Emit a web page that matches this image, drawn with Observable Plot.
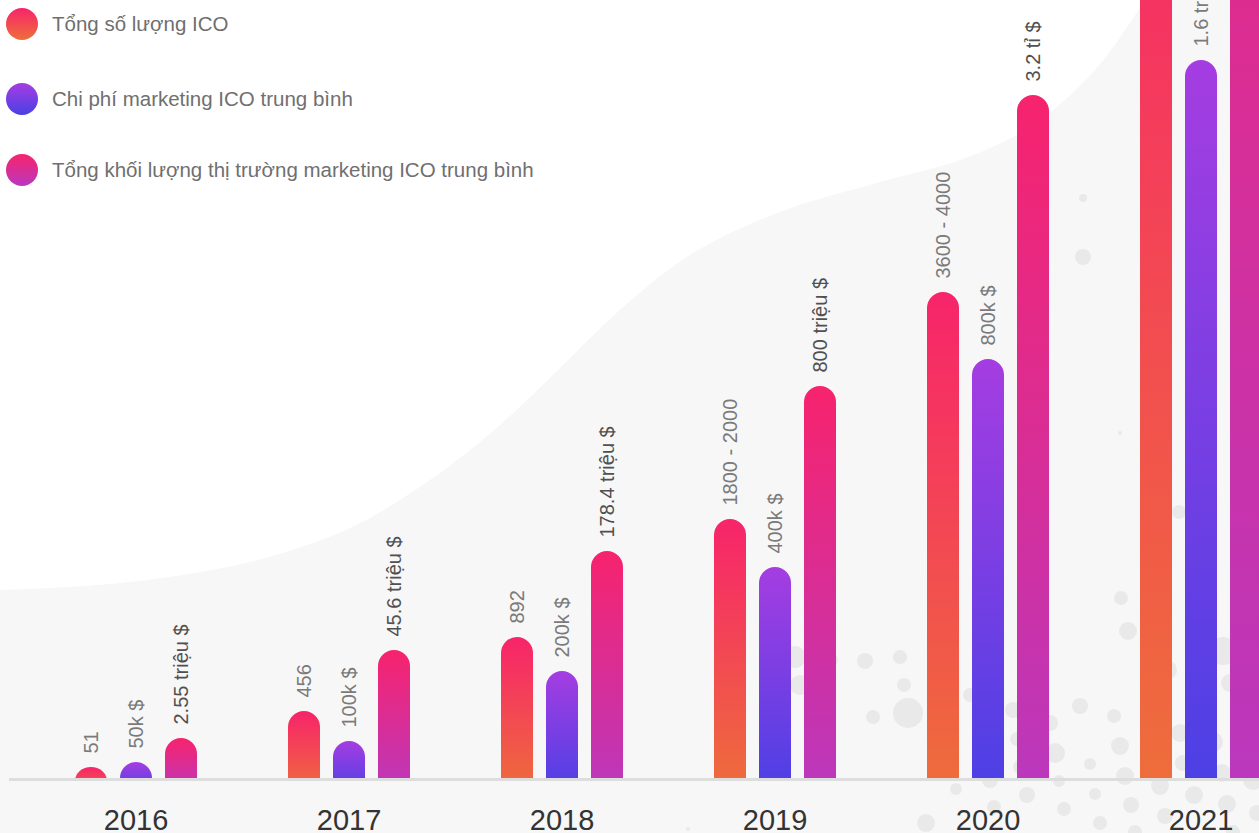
<!DOCTYPE html>
<html>
<head>
<meta charset="utf-8">
<script src="https://cdn.jsdelivr.net/npm/d3@7"></script>
<script src="https://cdn.jsdelivr.net/npm/@observablehq/plot@0.6"></script>
<style>
  html, body { margin: 0; padding: 0; background: #ffffff; overflow: hidden; width: 1259px; height: 833px; }
  #wrap { position: relative; width: 1259px; height: 833px; overflow: hidden; font-family: "Liberation Sans", Arial, sans-serif; }
  #bg, #chart, #legend { position: absolute; left: 0; top: 0; }
  #chart { width: 1310px; }
  #chart svg { max-width: none !important; }
  #legend .item { position: absolute; left: 6px; display: flex; align-items: center; height: 32px; }
  #legend .sw { width: 32px; height: 32px; border-radius: 50%; margin-right: 14px; }
  #legend .lb { font-size: 20.5px; color: #6f6f6f; white-space: nowrap; }
</style>
</head>
<body>
<div id="wrap">
  <svg id="bg" width="1259" height="833"></svg>
  <div id="chart"></div>
  <div id="legend"></div>
</div>
<script>
// ---- data ----
const years = ["2016", "2017", "2018", "2019", "2020", "2021"];
const seriesNames = [
  "Tổng số lượng ICO",
  "Chi phí marketing ICO trung bình",
  "Tổng khối lượng thị trường marketing ICO trung bình"
];
// bar heights as drawn in the picture (illustrative scale)
const countHeights  = [11, 67, 141, 259, 486, 980];
const costHeights   = [16, 37, 107, 211, 419, 718];
const marketHeights = [40, 128, 227, 392, 683, 1370];
// value labels printed above the bars
const countLabels  = ["51", "456", "892", "1800 - 2000", "3600 - 4000", "7200 - 8000"];
const costLabels   = ["50k $", "100k $", "200k $", "400k $", "800k $", "1.6 triệu $"];
const marketLabels = ["2.55 triệu $", "45.6 triệu $", "178.4 triệu $", "800 triệu $", "3.2 tỉ $", "12.8 tỉ $"];

// ---- styling ----
const gradients = [
  {id: "gCount",  top: "#f7246b", bottom: "#ee6e3a"},
  {id: "gCost",   top: "#a53de1", bottom: "#4a40e5"},
  {id: "gMarket", top: "#f7236d", bottom: "#ba38be"}
];
const labelFill = ["#7a7a7a", "#7a7a7a", "#505050"];
const labelWeight = [400, 400, 500];

const heightsBySeries = [countHeights, costHeights, marketHeights];
const labelsBySeries = [countLabels, costLabels, marketLabels];
const rowsBySeries = seriesNames.map((s, k) =>
  years.map((yr, i) => ({year: yr, series: s, h: heightsBySeries[k][i], label: labelsBySeries[k][i]}))
);

// ---- background decoration ----
const curvePts = [[0,590],[120,583],[250,562],[350,528],[430,480],[500,425],[560,368],[620,310],[690,255],[780,212],[880,182],[960,160],[1020,133],[1065,100],[1105,58],[1145,0]];
const bubbles = [
  [795,657,11],[830,660,8],[865,661,8],[900,657,7],[800,685,10],[904,685,7],[908,713,15],[873,717,7],
  [1121,598,7],[1128,631,9],[1223,651,14],[1167,670,10],[1230,683,9],[970,695,7],[1013,710,8],[1050,723,8],
  [1080,706,8],[1114,716,7],[1180,733,9],[1213,742,10],[1017,739,7],[1055,753,10],[1120,746,9],[1090,764,6],
  [1183,763,8],[1222,773,9],[1020,767,7],[1253,780,10],[1125,776,9],[956,789,6],[990,780,8],[1027,795,8],
  [1059,781,6],[1095,794,6],[1131,805,8],[1160,786,9],[1194,795,9],[1227,804,9],[1064,809,7],[994,807,7],
  [926,823,9],[1100,823,7],[1165,816,8],[1257,813,8],[1135,832,7],[1233,832,7],[1083,198,4],[1083,257,8],
  [1179,512,7],[1120,433,2],[688,829,2]
];
const bg = d3.select("#bg");
const curve = d3.line().curve(d3.curveCatmullRom)(curvePts);
bg.append("path").attr("d", curve + "L1259,0L1259,833L0,833Z").attr("fill", "#f7f7f7");
bg.selectAll("circle").data(bubbles).join("circle")
  .attr("cx", d => d[0]).attr("cy", d => d[1]).attr("r", d => d[2]).attr("fill", "#e9e9e9");

// ---- chart ----
const marks = [
  Plot.ruleY([0], {stroke: "#dddddd", strokeWidth: 3, dy: 1, insetLeft: -20})
];
seriesNames.forEach((s, k) => {
  marks.push(Plot.barY(rowsBySeries[k], {
    fx: "year", x: "series", y1: -16, y2: "h",
    rx: 16, fill: `url(#${gradients[k].id})`, clip: true
  }));
  marks.push(Plot.text(rowsBySeries[k], {
    fx: "year", x: "series", y: "h", text: "label",
    rotate: -90, textAnchor: "start", lineAnchor: "middle", dy: -14,
    fontSize: 20, fill: labelFill[k], fontWeight: labelWeight[k]
  }));
});
marks.push(Plot.text(years, {
  fx: d => d, text: d => d, frameAnchor: "bottom", lineAnchor: "middle",
  dy: 42, fontSize: 29, fill: "#333333"
}));

const chart = Plot.plot({
  width: 1310,
  height: 833,
  marginTop: 0,
  marginBottom: 55,
  marginLeft: 27,
  marginRight: 2,
  style: {background: "transparent", fontFamily: "'Liberation Sans', Arial, sans-serif", overflow: "visible", maxWidth: "none"},
  fx: {domain: years, padding: 0, axis: null, label: null},
  x: {domain: seriesNames, paddingInner: 0.294, paddingOuter: 1.0, axis: null},
  y: {domain: [0, 778], axis: null},
  marks
});

const defs = d3.select(chart).insert("defs", ":first-child");
gradients.forEach(g => {
  const lg = defs.append("linearGradient").attr("id", g.id)
    .attr("x1", 0).attr("y1", 0).attr("x2", 0).attr("y2", 1);
  lg.append("stop").attr("offset", "0%").attr("stop-color", g.top);
  lg.append("stop").attr("offset", "100%").attr("stop-color", g.bottom);
});
document.getElementById("chart").appendChild(chart);

// ---- legend ----
const legendTops = [8, 83, 154];
const legend = d3.select("#legend");
seriesNames.forEach((s, k) => {
  const it = legend.append("div").attr("class", "item").style("top", legendTops[k] + "px");
  it.append("div").attr("class", "sw")
    .style("background", `linear-gradient(to bottom, ${gradients[k].top}, ${gradients[k].bottom})`);
  it.append("div").attr("class", "lb").text(s);
});
</script>
</body>
</html>
